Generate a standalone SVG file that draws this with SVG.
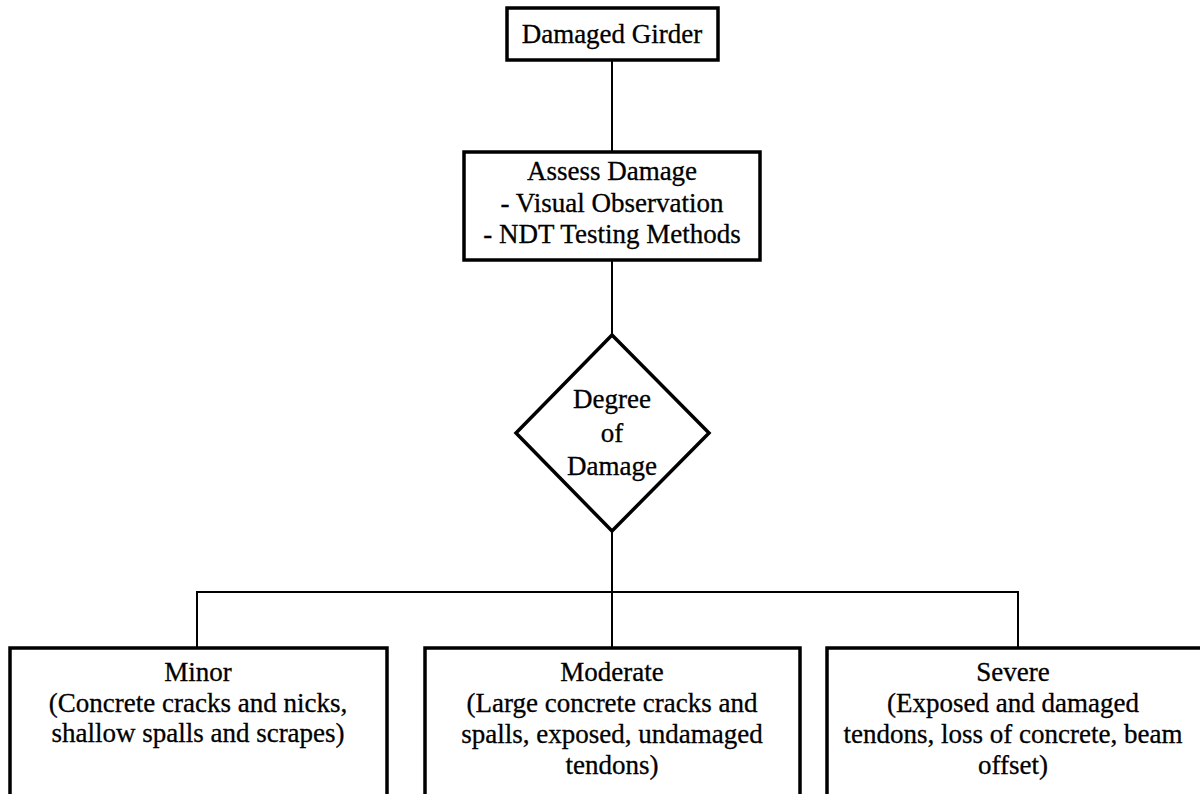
<svg xmlns="http://www.w3.org/2000/svg" width="1200" height="794" viewBox="0 0 1200 794">
<style>
.box{fill:#fff;stroke:#000;stroke-width:3.5}
.ln{fill:none;stroke:#000;stroke-width:2}
text{font-family:"Liberation Serif","Times New Roman",serif;font-size:27px;fill:#000;text-anchor:middle;stroke:#000;stroke-width:0.3}
</style>
<rect width="1200" height="794" fill="#fff"/>
<g id="connectors">
<line class="ln" x1="612" y1="60" x2="612" y2="152"/>
<line class="ln" x1="612" y1="260" x2="612" y2="335"/>
<line class="ln" x1="612" y1="531" x2="612" y2="648"/>
<polyline class="ln" points="197,648 197,592 1018,592 1018,648"/>
</g>
<g id="damaged-girder">
<rect class="box" x="507" y="8" width="211" height="52"/>
<text x="612" y="43">Damaged Girder</text>
</g>
<g id="assess-damage">
<rect class="box" x="464" y="152" width="296" height="108"/>
<text x="612" y="180">Assess Damage</text>
<text x="612" y="212">- Visual Observation</text>
<text x="612" y="243">- NDT Testing Methods</text>
</g>
<g id="degree">
<polygon class="box" points="612,335 709,433 612,531 516,433"/>
<text x="612" y="408">Degree</text>
<text x="612" y="442">of</text>
<text x="612" y="475">Damage</text>
</g>
<g id="minor">
<rect class="box" x="10" y="648" width="377" height="160"/>
<text x="198" y="681">Minor</text>
<text x="198" y="712">(Concrete cracks and nicks,</text>
<text x="198" y="742">shallow spalls and scrapes)</text>
</g>
<g id="moderate">
<rect class="box" x="425" y="648" width="375" height="160"/>
<text x="612" y="681">Moderate</text>
<text x="612" y="712">(Large concrete cracks and</text>
<text x="612" y="743">spalls, exposed, undamaged</text>
<text x="612" y="774">tendons)</text>
</g>
<g id="severe">
<rect class="box" x="827" y="648" width="380" height="160"/>
<text x="1013" y="681">Severe</text>
<text x="1013" y="712">(Exposed and damaged</text>
<text x="1013" y="743">tendons, loss of concrete, beam</text>
<text x="1013" y="774">offset)</text>
</g>
</svg>
